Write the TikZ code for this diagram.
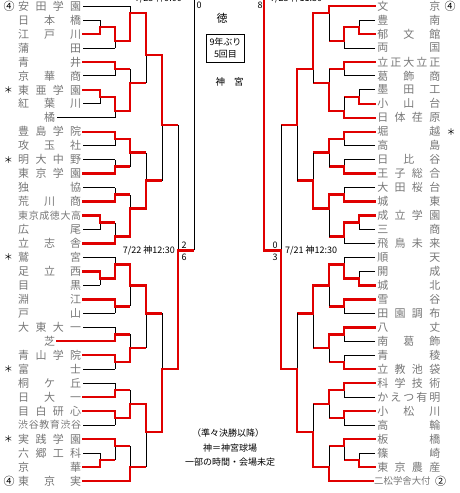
\documentclass[tikz,border=0pt]{standalone}
\usepackage{fontspec}
\setmainfont{Noto Sans CJK JP}
\usepackage{tikz}
\usetikzlibrary{positioning}
\definecolor{winred}{HTML}{E00000}
\definecolor{namegray}{HTML}{777777}
% y of a bracket row (1 = top team line)
\newcommand\ry[1]{6+(#1-1)*13.97}
% one game: x, winner row, loser row, out row, next x
\newcommand\game[5]{%
  \draw[lose] (#1,{\ry{#4}}) -- (#1,{\ry{#3}});
  \draw[win, shorten >=1.2pt] (#1,{\ry{#2}}) -- (#1,{\ry{#4}}) -- (#5,{\ry{#4}});
}
\begin{document}
\begin{tikzpicture}[x=1pt, y=-1pt,
  lose/.style={draw=black, line width=0.8pt},
  win/.style={draw=winred, line width=2.4pt, line cap=rect},
  tmL/.style={anchor=west, inner xsep=2pt, inner ysep=0pt, text=namegray,
              font=\fontsize{11}{12}\selectfont},
  tmR/.style={tmL, anchor=east},
  lbl/.style={inner sep=0pt, font=\fontsize{9}{10}\selectfont},
  seedmk/.style={inner sep=0pt, font=\fontsize{11}{12}\selectfont},
  astmk/.style={inner sep=0pt, font=\fontsize{9}{10}\selectfont}
]
  \useasboundingbox (0,0) rectangle (459,493);
  \clip (0,0) rectangle (459,493);

  % left block teams
  \foreach \r/\t/\x/\s in {
    1/{安\hfill 田\hfill 学\hfill 園}/130/lose,
    2/{日\hfill 本\hfill 橋}/100/lose,
    3/{江\hfill 戸\hfill 川}/100/win,
    4/{蒲\hfill 田}/115/lose,
    5/{青\hfill 井}/115/win,
    6/{京\hfill 華\hfill 商}/115/lose,
    7/{東\hfill 亜\hfill 学\hfill 園}/100/win,
    8/{紅\hfill 葉\hfill 川}/100/lose,
    10/{豊\hfill 島\hfill 学\hfill 院}/115/win,
    11/{攻\hfill 玉\hfill 社}/115/lose,
    12/{明\hfill 大\hfill 中\hfill 野}/115/lose,
    13/{東\hfill 京\hfill 学\hfill 園}/115/win,
    14/{独\hfill 協}/115/lose,
    15/{荒\hfill 川\hfill 商}/115/win,
    16/{\fontsize{10}{12}\selectfont 東\hfill 京\hfill 成\hfill 徳\hfill 大\hfill 高}/100/win,
    17/{広\hfill 尾}/100/lose,
    18/{立\hfill 志\hfill 舎}/115/win,
    19/{鷲\hfill 宮}/115/lose,
    20/{足\hfill 立\hfill 西}/100/win,
    21/{目\hfill 黒}/100/lose,
    22/{淵\hfill 江}/115/win,
    23/{戸\hfill 山}/115/lose,
    24/{大\hfill 東\hfill 大\hfill 一}/115/lose,
    26/{青\hfill 山\hfill 学\hfill 院}/115/win,
    27/{富\hfill 士}/115/lose,
    28/{桐\hfill ケ\hfill 丘}/115/lose,
    29/{日\hfill 大\hfill 一}/115/win,
    30/{目\hfill 白\hfill 研\hfill 心}/115/win,
    31/{\fontsize{10}{12}\selectfont 渋\hfill 谷\hfill 教\hfill 育\hfill 渋\hfill 谷}/115/lose,
    32/{実\hfill 践\hfill 学\hfill 園}/115/win,
    33/{六\hfill 郷\hfill 工\hfill 科}/100/lose,
    34/{京\hfill 華}/100/win,
    35/{東\hfill 京\hfill 実}/130/win}{
    \node[tmL] (L\r) at (16,{\ry{\r}}) {\makebox[63pt][s]{\t}};
    \draw[\s] (L\r.east) -- (\x,{\ry{\r}});
  }
  \node[tmL, anchor=center] (L9) at (49.5,{\ry{9}}) {橘};
  \draw[lose] (L9.east) -- (115,{\ry{9}});
  \node[tmL, anchor=center] (L25) at (49.5,{\ry{25}}) {芝};
  \draw[win] (L25.east) -- (115,{\ry{25}});

  % right block teams
  \foreach \r/\t/\x/\s in {
    1/{文\hfill 京}/329/win,
    2/{豊\hfill 南}/359/lose,
    3/{郁\hfill 文\hfill 館}/359/win,
    4/{両\hfill 国}/344/lose,
    5/{立\hfill 正\hfill 大\hfill 立\hfill 正}/344/win,
    6/{葛\hfill 飾\hfill 商}/344/lose,
    7/{墨\hfill 田\hfill 工}/359/lose,
    8/{小\hfill 山\hfill 台}/359/win,
    9/{日\hfill 体\hfill 荏\hfill 原}/344/win,
    10/{堀\hfill 越}/344/win,
    11/{高\hfill 島}/344/lose,
    12/{日\hfill 比\hfill 谷}/344/lose,
    13/{王\hfill 子\hfill 総\hfill 合}/344/win,
    14/{大\hfill 田\hfill 桜\hfill 台}/344/lose,
    15/{城\hfill 東}/344/win,
    16/{成\hfill 立\hfill 学\hfill 園}/359/win,
    17/{三\hfill 商}/359/lose,
    18/{飛\hfill 鳥\hfill 未\hfill 来}/344/lose,
    19/{順\hfill 天}/344/lose,
    20/{開\hfill 成}/359/lose,
    21/{城\hfill 北}/359/win,
    22/{雪\hfill 谷}/344/win,
    23/{田\hfill 園\hfill 調\hfill 布}/344/lose,
    24/{八\hfill 丈}/344/win,
    25/{南\hfill 葛\hfill 飾}/344/lose,
    26/{青\hfill 稜}/344/lose,
    27/{立\hfill 教\hfill 池\hfill 袋}/344/win,
    28/{科\hfill 学\hfill 技\hfill 術}/344/win,
    29/{か\hfill え\hfill つ\hfill 有\hfill 明}/344/lose,
    30/{小\hfill 松\hfill 川}/344/win,
    31/{高\hfill 輪}/344/lose,
    32/{板\hfill 橋}/344/win,
    33/{篠\hfill 崎}/359/lose,
    34/{東\hfill 京\hfill 農\hfill 産}/359/win}{
    \node[tmR] (R\r) at (442.5,{\ry{\r}}) {\makebox[63pt][s]{\t}};
    \draw[\s] (R\r.west) -- (\x,{\ry{\r}});
  }
  \node[tmR, anchor=west, inner xsep=1pt, font=\fontsize{9.4}{12}\selectfont] (R35) at (373,{\ry{35}}) {二松学舎大付};
  \draw[win] (R35.west) -- (329,{\ry{35}});

  % seeds and marks
  \node[seedmk] (sdL1) at (9,{\ry{1}}) {④};
  \node[seedmk] (sdL35) at (9,{\ry{35}}) {④};
  \node[seedmk] (sdR1) at (450,{\ry{1}}) {④};
  \node[seedmk] (sdR35) at (440.5,{\ry{35}}) {②};
  \foreach \r in {7,12,19,27,32}
    \node[astmk] (asL\r) at (8.5,{\ry{\r}}) {＊};
  \node[astmk] (asR10) at (451,{\ry{10}}) {＊};

  % left games
  \game{100}{3}{2}{2.5}{115}
  \game{100}{7}{8}{7.5}{115}
  \game{100}{16}{17}{16.5}{115}
  \game{100}{20}{21}{20.5}{115}
  \game{100}{34}{33}{33.5}{115}
  \game{115}{2.5}{4}{3.5}{130}
  \game{115}{5}{6}{5.5}{130}
  \game{115}{7.5}{9}{8.5}{130}
  \game{115}{10}{11}{10.5}{130}
  \game{115}{13}{12}{12.5}{130}
  \game{115}{15}{14}{14.5}{130}
  \game{115}{18}{16.5}{17.5}{130}
  \game{115}{20.5}{19}{19.5}{130}
  \game{115}{22}{23}{22.5}{130}
  \game{115}{25}{24}{24.5}{130}
  \game{115}{26}{27}{26.5}{130}
  \game{115}{29}{28}{28.5}{130}
  \game{115}{30}{31}{30.5}{130}
  \game{115}{32}{33.5}{32.5}{130}
  \game{130}{3.5}{1}{1.5}{146}
  \game{130}{8.5}{5.5}{6.5}{146}
  \game{130}{10.5}{12.5}{11.5}{146}
  \game{130}{17.5}{14.5}{15.5}{146}
  \game{130}{19.5}{22.5}{21}{146}
  \game{130}{26.5}{24.5}{25.5}{146}
  \game{130}{30.5}{28.5}{29.5}{146}
  \game{130}{35}{32.5}{34}{146}
  \game{146}{1.5}{6.5}{4.5}{162}
  \game{146}{15.5}{11.5}{13.5}{162}
  \game{146}{21}{25.5}{23}{162}
  \game{146}{29.5}{34}{31.5}{162}
  \game{162}{4.5}{13.5}{9.5}{178}
  \game{162}{31.5}{23}{27}{178}
  \game{178}{27}{9.5}{18.5}{194}

  % right games
  \game{359}{3}{2}{2.5}{344}
  \game{359}{8}{7}{7.5}{344}
  \game{359}{16}{17}{16.5}{344}
  \game{359}{21}{20}{20.5}{344}
  \game{359}{34}{33}{33.5}{344}
  \game{344}{2.5}{4}{3.5}{329}
  \game{344}{5}{6}{5.5}{329}
  \game{344}{9}{7.5}{8.5}{329}
  \game{344}{10}{11}{10.5}{329}
  \game{344}{13}{12}{12.5}{329}
  \game{344}{15}{14}{14.5}{329}
  \game{344}{16.5}{18}{17.5}{329}
  \game{344}{20.5}{19}{19.5}{329}
  \game{344}{22}{23}{22.5}{329}
  \game{344}{24}{25}{24.5}{329}
  \game{344}{27}{26}{26.5}{329}
  \game{344}{28}{29}{28.5}{329}
  \game{344}{30}{31}{30.5}{329}
  \game{344}{32}{33.5}{32.5}{329}
  \game{329}{1}{3.5}{1.5}{313}
  \game{329}{8.5}{5.5}{6.5}{313}
  \game{329}{10.5}{12.5}{11.5}{313}
  \game{329}{14.5}{17.5}{15.5}{313}
  \game{329}{19.5}{22.5}{21}{313}
  \game{329}{24.5}{26.5}{25.5}{313}
  \game{329}{28.5}{30.5}{29.5}{313}
  \game{329}{35}{32.5}{34}{313}
  \game{313}{1.5}{6.5}{5.5}{297}
  \game{313}{15.5}{11.5}{13.5}{297}
  \game{313}{21}{25.5}{23}{297}
  \game{313}{34}{29.5}{31.5}{297}
  \game{297}{5.5}{13.5}{9.5}{281}
  \game{297}{31.5}{23}{27}{281}
  \game{281}{27}{9.5}{18.5}{264}

  % lines up to the next round
  \coordinate (upL) at (194,-10);
  \coordinate (upR) at (264,-10);
  \draw[lose] (194,{\ry{18.5}}) -- (upL);
  \draw[win] (264,{\ry{18.5}}) -- (upR);

  % dates, scores and notes
  \node[lbl, anchor=east] (dtL) at (182,-1.5) {7/23 神9:00};
  \node[lbl, anchor=west] (dtR) at (270,-1.5) {7/23 神11:30};
  \node[lbl] (scTL) at (199,5.5) {0};
  \node[lbl] (scTR) at (260,5.5) {8};
  \node[seedmk] (champ) at (222,18) {徳};
  \node[draw, line width=0.8pt, inner sep=0pt, minimum width=37.6pt, minimum height=28pt,
        align=center, font=\fontsize{9}{12}\selectfont] (note) at (225.5,48.3) {9年ぶり\\5回目};
  \node[lbl, font=\fontsize{9.5}{10}\selectfont] (venue) at (229.6,82) {神\hspace{9pt}宮};
  \node[lbl, anchor=east] (dtML) at (175,251) {7/22 神12:30};
  \node[lbl] (scML1) at (184,245) {2};
  \node[lbl] (scML2) at (184,257.3) {6};
  \node[lbl] (scMR1) at (275.2,245) {0};
  \node[lbl] (scMR2) at (275.2,257.3) {3};
  \node[lbl, anchor=west] (dtMR) at (285,251) {7/21 神12:30};
  \node[lbl] (ft1) at (228,433) {（準々決勝以降）};
  \node[lbl] (ft2) at (230,448) {神＝神宮球場};
  \node[lbl] (ft3) at (230,462) {一部の時間・会場未定};
\end{tikzpicture}
\end{document}
